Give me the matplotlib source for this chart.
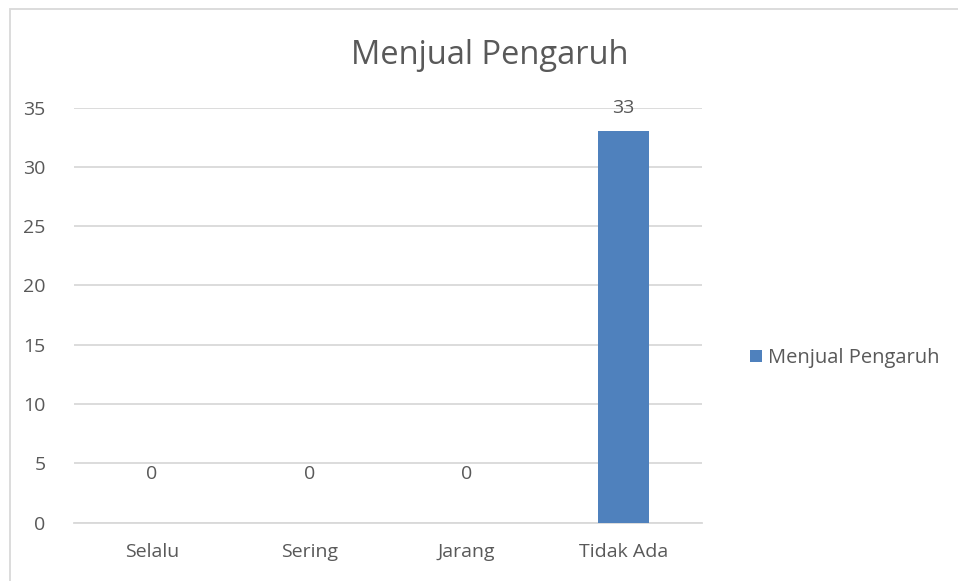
import numpy as np
import matplotlib.pyplot as plt
from matplotlib.patches import Rectangle

# chart data
categories = ['Selalu', 'Sering', 'Jarang', 'Tidak Ada']
values = [0, 0, 0, 33]
series_name = 'Menjual Pengaruh'
y_ticks = [0, 5, 10, 15, 20, 25, 30, 35]

text_color = '#595959'
grid_color = '#D9D9D9'
bar_color = '#4F81BD'

plt.rcParams['font.family'] = ['Open Sans', 'DejaVu Sans']

fig = plt.figure(figsize=(9.58, 5.81), dpi=100)
ax = fig.add_axes([73.5 / 958, 1 - 522.5 / 581, (702 - 73.5) / 958, (522.5 - 107.7) / 581])

x = np.arange(len(categories))
bars = ax.bar(x, values, width=0.32, color=bar_color, label=series_name, zorder=3)

# data labels above each bar
for xi, v in zip(x, values):
    off = 35 if v == 0 else 17
    ax.annotate(str(v), (xi, v), xytext=(0, off), textcoords='offset points',
                ha='center', va='center', fontsize=14, color=text_color)

ax.set_xlim(-0.5, len(categories) - 0.5)
ax.set_ylim(0, 35)
ax.set_yticks(y_ticks)
ax.set_xticks(x)
ax.set_xticklabels(categories)
ax.tick_params(axis='both', length=0, labelsize=14, labelcolor=text_color)
ax.tick_params(axis='y', pad=20)
ax.tick_params(axis='x', pad=15)
ax.yaxis.grid(True, color=grid_color, linewidth=1.3, zorder=0)
ax.set_axisbelow(True)
for s in ['top', 'right', 'left']:
    ax.spines[s].set_visible(False)
ax.spines['bottom'].set_color(grid_color)
ax.spines['bottom'].set_linewidth(1.3)

fig.text(490 / 958, 1 - 55 / 581, series_name, ha='center', va='center',
         fontsize=23.5, color=text_color)

fig.legend(loc='center left', bbox_to_anchor=(732 / 958, 1 - 358 / 581), frameon=False,
           fontsize=14.5, labelcolor=text_color, handlelength=0.6, handleheight=0.6,
           handletextpad=0.3)

# outer chart border
fig.patches.append(Rectangle((10 / 958, -0.1), 1.2, 1 - 9 / 581 + 0.1, transform=fig.transFigure,
                             fill=False, edgecolor=grid_color, linewidth=1.3))

fig.savefig('out.png', dpi=100)
